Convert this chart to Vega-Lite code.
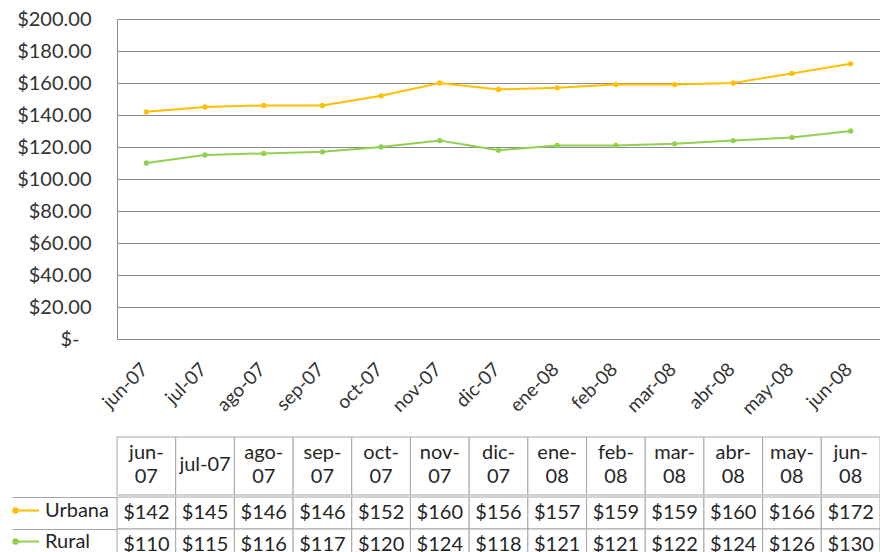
{
  "$schema": "https://vega.github.io/schema/vega-lite/v6.json",
  "padding": {"left": 11, "top": 9, "right": 0, "bottom": 0},
  "spacing": 0,
  "datasets": {
    "prices": [
      {"month": "jun-07", "series": "Urbana", "value": 142},
      {"month": "jul-07", "series": "Urbana", "value": 145},
      {"month": "ago-07", "series": "Urbana", "value": 146},
      {"month": "sep-07", "series": "Urbana", "value": 146},
      {"month": "oct-07", "series": "Urbana", "value": 152},
      {"month": "nov-07", "series": "Urbana", "value": 160},
      {"month": "dic-07", "series": "Urbana", "value": 156},
      {"month": "ene-08", "series": "Urbana", "value": 157},
      {"month": "feb-08", "series": "Urbana", "value": 159},
      {"month": "mar-08", "series": "Urbana", "value": 159},
      {"month": "abr-08", "series": "Urbana", "value": 160},
      {"month": "may-08", "series": "Urbana", "value": 166},
      {"month": "jun-08", "series": "Urbana", "value": 172},
      {"month": "jun-07", "series": "Rural", "value": 110},
      {"month": "jul-07", "series": "Rural", "value": 115},
      {"month": "ago-07", "series": "Rural", "value": 116},
      {"month": "sep-07", "series": "Rural", "value": 117},
      {"month": "oct-07", "series": "Rural", "value": 120},
      {"month": "nov-07", "series": "Rural", "value": 124},
      {"month": "dic-07", "series": "Rural", "value": 118},
      {"month": "ene-08", "series": "Rural", "value": 121},
      {"month": "feb-08", "series": "Rural", "value": 121},
      {"month": "mar-08", "series": "Rural", "value": 122},
      {"month": "abr-08", "series": "Rural", "value": 124},
      {"month": "may-08", "series": "Rural", "value": 126},
      {"month": "jun-08", "series": "Rural", "value": 130}
    ],
    "months": [
      {"month": "jun-07", "label": "jun-\n07"},
      {"month": "jul-07", "label": "jul-07"},
      {"month": "ago-07", "label": "ago-\n07"},
      {"month": "sep-07", "label": "sep-\n07"},
      {"month": "oct-07", "label": "oct-\n07"},
      {"month": "nov-07", "label": "nov-\n07"},
      {"month": "dic-07", "label": "dic-\n07"},
      {"month": "ene-08", "label": "ene-\n08"},
      {"month": "feb-08", "label": "feb-\n08"},
      {"month": "mar-08", "label": "mar-\n08"},
      {"month": "abr-08", "label": "abr-\n08"},
      {"month": "may-08", "label": "may-\n08"},
      {"month": "jun-08", "label": "jun-\n08"}
    ]
  },
  "config": {
    "view": {"stroke": null},
    "font": "Lato",
    "axis": {"labelFont": "Lato", "labelColor": "#333333"},
    "text": {"font": "Lato"}
  },
  "resolve": {"scale": {"x": "independent", "y": "independent"}},
  "vconcat": [
    {
      "width": 763,
      "height": 320,
      "data": {"name": "prices"},
      "mark": {"type": "line", "strokeWidth": 2, "point": {"filled": true, "size": 28}},
      "encoding": {
        "x": {
          "field": "month", "type": "ordinal",
          "sort": ["jun-07","jul-07","ago-07","sep-07","oct-07","nov-07","dic-07","ene-08","feb-08","mar-08","abr-08","may-08","jun-08"],
          "scale": {"type": "point", "padding": 0.5},
          "axis": {
            "title": "\u00a0", "titleFontSize": 10, "titlePadding": 7,
            "labelAngle": -45, "labelAlign": "right", "labelBaseline": "middle",
            "labelPadding": 27, "labelOffset": -2, "labelFontSize": 19,
            "ticks": false, "tickSize": 0, "grid": false,
            "domainColor": "#8c8c8c", "domainWidth": 1
          }
        },
        "y": {
          "field": "value", "type": "quantitative",
          "scale": {"domain": [0, 200], "nice": false},
          "axis": {
            "title": null,
            "values": [0, 20, 40, 60, 80, 100, 120, 140, 160, 180, 200],
            "labelExpr": "datum.value === 0 ? '$-' : '$' + format(datum.value, '.2f')",
            "labelFontSize": 20,
            "labelPadding": {"condition": {"test": "datum.value === 0", "value": 38}, "value": 26},
            "ticks": false, "tickSize": 0,
            "grid": true, "gridColor": "#8c8c8c", "gridWidth": 1,
            "domainColor": "#8c8c8c", "domainWidth": 1
          }
        },
        "color": {
          "field": "series", "type": "nominal",
          "scale": {"domain": ["Urbana", "Rural"], "range": ["#FFC000", "#92D050"]},
          "legend": {
            "title": null,
            "orient": "none", "legendX": -104, "legendY": 478,
            "symbolType": "M-1,0H1M-1.06,0a0.18,0.18 0 1,0 0.36,0a0.18,0.18 0 1,0 -0.36,0",
            "symbolSize": 625, "symbolStrokeWidth": 2,
            "labelFont": "Lato", "labelFontSize": 20, "labelColor": "#262626",
            "labelOffset": 5, "rowPadding": 7, "padding": 0,
            "encode": {
              "symbols": {
                "update": {
                  "fill": {"scale": "color", "field": "value"},
                  "stroke": {"scale": "color", "field": "value"}
                }
              }
            }
          }
        }
      }
    },
    {
      "width": 763,
      "height": 58,
      "data": {"name": "months"},
      "encoding": {
        "x": {
          "field": "month", "type": "nominal",
          "sort": ["jun-07","jul-07","ago-07","sep-07","oct-07","nov-07","dic-07","ene-08","feb-08","mar-08","abr-08","may-08","jun-08"],
          "scale": {"type": "band", "paddingInner": 0, "paddingOuter": 0},
          "axis": null
        }
      },
      "layer": [
        {"mark": {"type": "rect", "fill": "white", "stroke": "#a6a6a6", "strokeWidth": 1}},
        {
          "transform": [{"filter": "indexof(datum.label, '\\n') >= 0"}],
          "mark": {"type": "text", "lineBreak": "\n", "fontSize": 20, "lineHeight": 24, "dy": -13, "color": "#262626", "font": "Lato"},
          "encoding": {"text": {"field": "label"}}
        },
        {
          "transform": [{"filter": "indexof(datum.label, '\\n') < 0"}],
          "mark": {"type": "text", "fontSize": 20, "dy": -1, "color": "#262626", "font": "Lato"},
          "encoding": {"text": {"field": "label"}}
        }
      ]
    },
    {
      "width": 763,
      "height": 64,
      "data": {"name": "prices"},
      "encoding": {
        "x": {
          "field": "month", "type": "nominal",
          "sort": ["jun-07","jul-07","ago-07","sep-07","oct-07","nov-07","dic-07","ene-08","feb-08","mar-08","abr-08","may-08","jun-08"],
          "scale": {"type": "band", "paddingInner": 0, "paddingOuter": 0},
          "axis": null
        },
        "y": {
          "field": "series", "type": "nominal",
          "sort": ["Urbana", "Rural"],
          "scale": {"type": "band", "paddingInner": 0, "paddingOuter": 0},
          "axis": {
            "title": null, "labels": false, "domain": false, "grid": false,
            "ticks": true, "tickSize": 105, "tickColor": "#a6a6a6", "tickWidth": 1,
            "bandPosition": 0
          }
        }
      },
      "layer": [
        {"mark": {"type": "rect", "fill": "white", "stroke": "#a6a6a6", "strokeWidth": 1}},
        {
          "mark": {"type": "text", "fontSize": 20, "color": "#262626", "font": "Lato"},
          "encoding": {"text": {"field": "value", "type": "quantitative", "format": "$.0f"}}
        }
      ]
    }
  ]
}
